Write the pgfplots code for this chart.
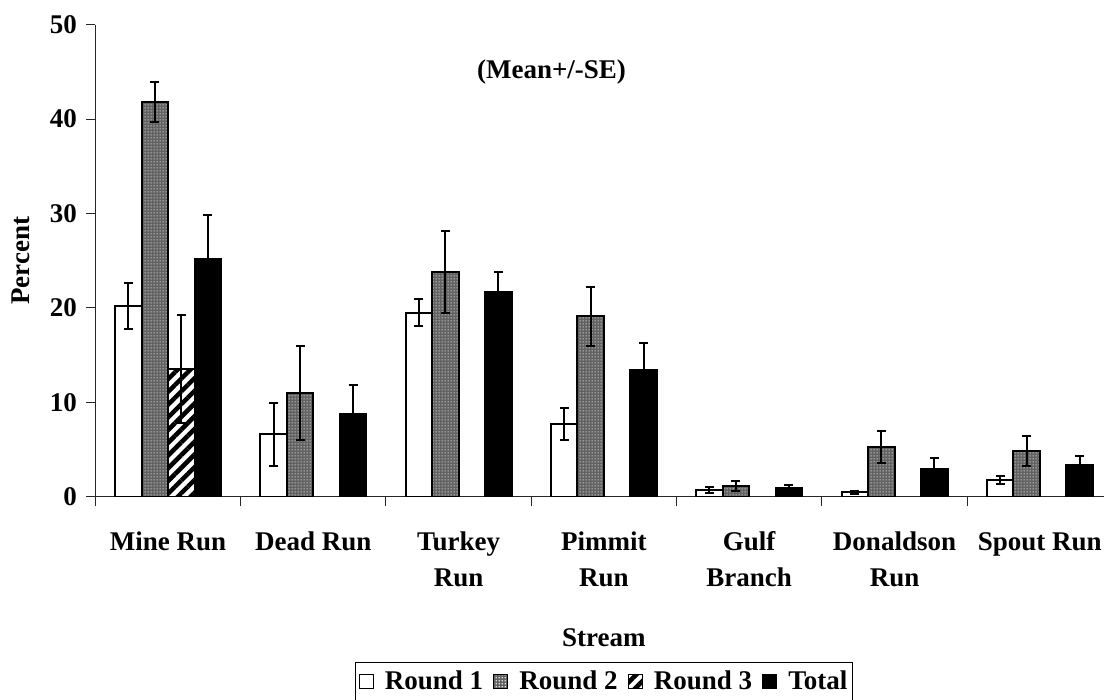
\documentclass[border=0pt]{standalone}
\usepackage{pgfplots}
\pgfplotsset{compat=1.18}
\usepackage{fontspec}
\setmainfont{Liberation Serif}
\usetikzlibrary{patterns,patterns.meta}

\pgfdeclarepattern{name=gridcells, type=uncolored,
  bottom left={\pgfpoint{0pt}{0pt}}, top right={\pgfpoint{3pt}{3pt}},
  tile size={\pgfpoint{3pt}{3pt}},
  code={\pgfpathrectangle{\pgfpoint{0.8pt}{0.8pt}}{\pgfpoint{1.5pt}{1.5pt}}\pgfusepath{fill}}}

\pgfplotstableread{
x y e
0 20.2 2.4
1 6.6 3.3
2 19.5 1.45
3 7.7 1.7
4 0.7 0.35
5 0.45 0.15
6 1.77 0.45
}\roundone
\pgfplotstableread{
x y e
0 41.8 2.1
1 11.0 5.0
2 23.8 4.3
3 19.1 3.1
4 1.13 0.5
5 5.23 1.7
6 4.84 1.6
}\roundtwo
\pgfplotstableread{
x y e
0 13.5 5.7
}\roundthree
\pgfplotstableread{
x y e
0 25.2 4.6
1 8.8 3.0
2 21.65 2.2
3 13.4 2.9
4 0.95 0.25
5 2.9 1.2
6 3.36 0.95
}\total

\begin{document}
\begin{tikzpicture}[font=\fontsize{27}{36}\selectfont\bfseries]
\useasboundingbox (0,0) rectangle (1104pt,-700pt);
\begin{axis}[
  at={(95.4pt,-496.7pt)}, anchor=south west,
  scale only axis, width=1017.1pt, height=472pt,
  xmin=-0.5, xmax=6.5, ymin=0, ymax=50,
  axis lines*=left,
  axis line style={line width=1pt, black!85},
  ybar=0pt, bar width=26.5pt,
  xtick={-0.5,0.5,1.5,2.5,3.5,4.5,5.5,6.5},
  x tick label as interval,
  xticklabels={{\strut Mine Run}, {\strut Dead Run}, {\strut Turkey\\Run}, {\strut Pimmit\\Run}, {\strut Gulf\\Branch}, {\strut Donaldson\\Run}, {\strut Spout Run}},
  xticklabel style={align=center, font=\fontsize{27}{36}\selectfont\bfseries, yshift=-16pt},
  yticklabel style={font=\fontsize{27}{36}\selectfont\bfseries, xshift=-6pt},
  ytick={0,10,20,30,40,50},
  tick align=outside, major tick length=9pt,
  tick style={line width=1pt, black!85},
  /pgf/number format/assume math mode=true,
  xlabel={Stream},
  xlabel style={at={(rel axis cs:0.5,0)}, anchor=base, yshift=-150pt},
  ylabel={Percent},
  ylabel style={at={(rel axis cs:0,0.5)}, anchor=north, inner sep=0pt, yshift=83.4pt},
  legend style={at={(rel axis cs:0.5,0)}, anchor=north, yshift=-165pt,
    draw=black, line width=1pt, legend columns=-1, inner ysep=7pt,
    font=\fontsize{27}{36}\selectfont\bfseries,
    /tikz/every odd column/.append style={column sep=9pt},
    /tikz/every even column/.append style={column sep=8pt}},
  legend image code/.code={\draw[#1, line width=1.2pt] (0pt,-7pt) rectangle (14pt,7pt);},
  error bars/y dir=both, error bars/y explicit,
  error bars/error bar style={line width=2pt, black},
  error bars/error mark options={rotate=90, line width=2pt, mark size=4.5pt, black},
]
\addplot[draw=black, line width=2pt, fill=white] table[x=x,y=y,y error=e] {\roundone};
\addplot[draw=black, line width=2pt, fill=black!62, postaction={pattern=gridcells, pattern color=black!12}] table[x=x,y=y,y error=e] {\roundtwo};
\addplot[draw=black, line width=2pt, fill=white, postaction={pattern={Lines[angle=45, distance=9pt, line width=4.5pt]}, pattern color=black}] table[x=x,y=y,y error=e] {\roundthree};
\addplot[draw=black, line width=2pt, fill=black] table[x=x,y=y,y error=e] {\total};
\legend{Round 1, Round 2, Round 3, Total}
\node[anchor=base] at (axis cs:2.639,44.35) {(Mean+/-SE)};
\end{axis}
\end{tikzpicture}
\end{document}
